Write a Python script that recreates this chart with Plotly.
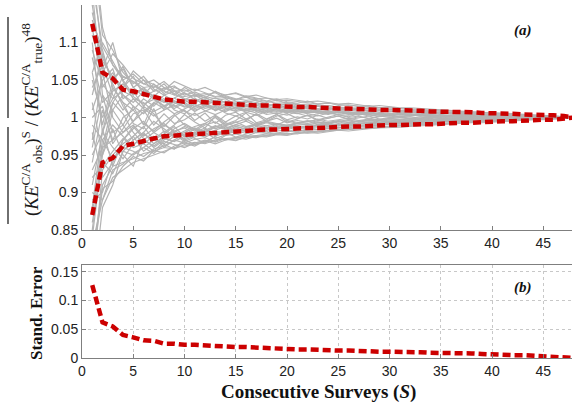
import plotly.graph_objects as go

# Consecutive surveys S = 1..48
surveys = list(range(1, 49))

# Standard error vs S (panel b)
stand_error = [0.127, 0.062, 0.055, 0.040, 0.036, 0.031, 0.030, 0.025, 0.025, 0.023,
               0.023, 0.022, 0.021, 0.019, 0.019, 0.019, 0.018, 0.017, 0.017, 0.016,
               0.015, 0.015, 0.014, 0.014, 0.013, 0.013, 0.012, 0.012, 0.011, 0.011,
               0.011, 0.010, 0.010, 0.009, 0.009, 0.009, 0.008, 0.008, 0.007, 0.006,
               0.006, 0.005, 0.005, 0.004, 0.004, 0.003, 0.002, 0.000]

# Upper / lower red bands in panel (a)
band_upper = [1.125, 1.060, 1.052, 1.037, 1.035, 1.031, 1.027, 1.024, 1.023, 1.021,
              1.021, 1.020, 1.019, 1.018, 1.018, 1.017, 1.016, 1.016, 1.015, 1.015,
              1.014, 1.014, 1.013, 1.013, 1.012, 1.012, 1.011, 1.011, 1.010, 1.010,
              1.010, 1.009, 1.009, 1.008, 1.008, 1.008, 1.007, 1.007, 1.006, 1.006,
              1.005, 1.005, 1.004, 1.004, 1.003, 1.003, 1.002, 1.000]
band_lower = [0.870, 0.940, 0.946, 0.962, 0.965, 0.969, 0.972, 0.975, 0.976, 0.977,
              0.978, 0.979, 0.980, 0.981, 0.981, 0.982, 0.983, 0.984, 0.984, 0.985,
              0.985, 0.986, 0.986, 0.987, 0.987, 0.988, 0.988, 0.989, 0.989, 0.990,
              0.990, 0.991, 0.991, 0.991, 0.992, 0.992, 0.993, 0.993, 0.994, 0.994,
              0.995, 0.995, 0.996, 0.996, 0.997, 0.997, 0.998, 1.000]

# Individual realizations: deviation from 1, in thousandths
realizations = [
    [180, 95, 70, 55, 48, 40, 42, 35, 30, 28, 30, 26, 22, 20, 21, 18, 16, 17, 15, 13, 14, 12, 11, 12, 10, 9, 10, 8, 7, 8, 7, 6, 6, 5, 5, 6, 5, 4, 4, 3, 3, 3, 2, 2, 1, 1, 1, 0],
    [-170, -110, -80, -70, -60, -55, -50, -44, -40, -38, -35, -33, -30, -28, -27, -25, -24, -22, -20, -19, -18, -17, -15, -14, -13, -12, -11, -10, -10, -9, -8, -8, -7, -6, -6, -5, -5, -4, -4, -3, -3, -2, -2, -2, -1, -1, 0, 0],
    [120, 40, 60, 30, 20, 35, 25, 15, 22, 18, 10, 14, 16, 12, 8, 11, 13, 9, 7, 10, 8, 6, 7, 9, 6, 5, 4, 6, 5, 3, 4, 5, 3, 2, 3, 2, 3, 2, 1, 2, 1, 1, 2, 1, 0, 1, 0, 0],
    [-90, -20, -40, -55, -35, -30, -38, -28, -32, -25, -20, -24, -18, -22, -16, -19, -14, -17, -12, -15, -11, -13, -10, -12, -9, -10, -8, -9, -7, -8, -6, -7, -5, -6, -5, -4, -5, -3, -4, -3, -2, -3, -2, -1, -2, -1, 0, 0],
    [60, 100, 75, 50, 58, 45, 40, 48, 36, 30, 34, 28, 25, 27, 22, 20, 23, 18, 16, 19, 15, 14, 16, 12, 13, 11, 10, 12, 9, 8, 9, 7, 8, 6, 7, 5, 6, 5, 4, 4, 3, 3, 3, 2, 2, 1, 1, 0],
    [-140, -60, -75, -45, -50, -40, -30, -35, -25, -28, -22, -26, -20, -18, -21, -16, -15, -17, -13, -14, -12, -11, -13, -10, -9, -10, -8, -7, -8, -6, -7, -5, -6, -4, -5, -4, -3, -4, -3, -2, -3, -2, -1, -2, -1, -1, 0, 0],
    [20, -50, 10, 30, 15, -10, 20, 25, 10, 5, 15, 20, 12, 8, 14, 10, 6, 9, 12, 7, 5, 8, 6, 4, 7, 5, 3, 6, 4, 2, 5, 3, 4, 2, 3, 1, 2, 3, 1, 2, 1, 0, 1, 1, 0, 0, 0, 0],
    [-40, 30, -20, -10, -30, -20, -5, -15, -25, -18, -12, -8, -15, -10, -6, -12, -9, -5, -8, -11, -7, -4, -6, -8, -5, -3, -6, -4, -2, -5, -3, -4, -2, -3, -1, -2, -3, -1, -2, -1, -1, -2, 0, -1, 0, 0, 0, 0],
    [200, 80, 50, 65, 40, 50, 35, 38, 42, 32, 28, 30, 33, 26, 24, 27, 22, 20, 23, 19, 17, 18, 15, 16, 14, 12, 13, 11, 10, 11, 9, 8, 9, 7, 6, 7, 5, 6, 4, 5, 3, 4, 2, 3, 2, 1, 1, 0],
    [-190, -90, -65, -60, -55, -48, -45, -40, -42, -36, -33, -35, -30, -29, -31, -26, -27, -24, -23, -21, -22, -19, -18, -17, -16, -15, -14, -13, -12, -11, -11, -10, -9, -8, -8, -7, -6, -6, -5, -5, -4, -3, -3, -2, -2, -1, -1, 0],
    [80, 20, 35, 45, 30, 40, 28, 20, 26, 33, 24, 18, 22, 25, 17, 15, 20, 14, 18, 13, 12, 15, 11, 10, 13, 9, 8, 10, 7, 9, 6, 7, 5, 6, 4, 5, 4, 3, 4, 2, 3, 2, 2, 1, 1, 1, 0, 0],
    [-60, 10, -30, -20, -10, -25, -15, -8, -20, -12, -18, -10, -6, -14, -9, -5, -11, -7, -10, -4, -8, -6, -3, -7, -5, -4, -6, -3, -4, -2, -3, -4, -2, -1, -3, -2, -1, -2, -1, -1, 0, -1, -1, 0, 0, 0, 0, 0],
    [150, 60, 85, 70, 52, 45, 50, 40, 35, 37, 30, 32, 27, 29, 25, 23, 24, 21, 19, 20, 18, 16, 17, 15, 14, 13, 12, 13, 11, 10, 9, 10, 8, 7, 8, 6, 7, 5, 5, 4, 4, 3, 3, 2, 2, 1, 1, 0],
    [-110, -100, -55, -40, -45, -52, -42, -38, -30, -34, -29, -27, -32, -24, -22, -25, -20, -21, -18, -17, -19, -15, -16, -14, -13, -14, -11, -12, -10, -9, -10, -8, -7, -8, -6, -6, -5, -5, -4, -4, -3, -3, -2, -2, -1, -1, 0, 0],
    [40, 70, 30, 10, 25, 20, 8, 15, 5, 12, 18, 9, 4, 10, 13, 7, 3, 8, 5, 9, 6, 2, 5, 7, 4, 3, 5, 2, 4, 3, 1, 3, 2, 2, 1, 2, 1, 0, 1, 1, 0, 1, 0, 0, 0, 0, 0, 0],
    [-20, -80, -60, -30, -15, -5, -20, -28, -15, -8, -16, -20, -13, -7, -12, -15, -10, -6, -9, -12, -8, -5, -9, -6, -4, -7, -5, -3, -6, -4, -3, -2, -4, -3, -2, -1, -2, -2, -1, -1, -1, 0, -1, 0, 0, 0, 0, 0],
    [100, -20, 20, 40, 55, 30, 45, 32, 40, 35, 38, 33, 28, 30, 32, 27, 25, 26, 22, 23, 21, 20, 18, 19, 17, 16, 15, 14, 13, 12, 12, 11, 10, 9, 9, 8, 7, 7, 6, 6, 5, 4, 4, 3, 2, 2, 1, 0],
    [-130, -30, -10, -25, -40, -35, -45, -32, -36, -40, -34, -30, -33, -28, -30, -27, -24, -25, -22, -23, -20, -21, -19, -18, -17, -16, -15, -14, -13, -13, -12, -11, -10, -9, -9, -8, -7, -6, -6, -5, -5, -4, -3, -3, -2, -2, -1, 0],
    [10, 50, 65, 25, 35, 15, 30, 10, 18, 24, 14, 20, 9, 15, 11, 17, 8, 12, 10, 6, 11, 7, 9, 5, 8, 4, 6, 7, 3, 5, 4, 2, 4, 3, 2, 3, 1, 2, 2, 1, 1, 1, 0, 1, 0, 0, 0, 0],
    [-70, -40, 20, 5, -20, -35, -25, -40, -30, -22, -28, -34, -25, -20, -26, -22, -18, -21, -16, -19, -15, -13, -16, -12, -14, -11, -10, -12, -9, -8, -9, -7, -8, -6, -5, -6, -4, -5, -3, -4, -3, -2, -2, -1, -1, -1, 0, 0],
    [230, 110, 90, 60, 45, 55, 38, 30, 35, 25, 22, 27, 20, 17, 19, 14, 16, 12, 15, 11, 10, 12, 9, 8, 10, 7, 6, 8, 5, 6, 4, 5, 3, 4, 3, 2, 3, 2, 1, 2, 1, 1, 1, 0, 1, 0, 0, 0],
    [-220, -70, -50, -35, -25, -45, -35, -25, -20, -30, -24, -16, -22, -19, -14, -18, -12, -15, -11, -13, -10, -9, -11, -8, -10, -7, -8, -6, -7, -5, -6, -4, -5, -3, -4, -3, -2, -3, -2, -1, -2, -1, -1, 0, -1, 0, 0, 0],
    [0, 15, -35, -15, 5, 10, -10, 5, -8, -3, 6, -5, 3, -6, 2, -4, 5, -2, 4, -3, 1, -2, 3, -1, 2, -2, 1, -1, 2, 0, 1, -1, 1, 0, -1, 1, 0, -1, 0, 1, 0, 0, 0, 0, 0, 0, 0, 0],
    [130, 90, 40, 20, 10, 25, 15, 30, 22, 15, 20, 24, 18, 22, 19, 16, 20, 17, 14, 16, 13, 15, 12, 14, 11, 10, 12, 9, 10, 8, 9, 7, 8, 6, 6, 5, 5, 4, 4, 3, 3, 2, 2, 2, 1, 1, 0, 0],
    [-160, -50, -15, -50, -65, -30, -20, -10, -18, -24, -15, -22, -17, -12, -18, -14, -16, -11, -14, -10, -12, -14, -10, -9, -11, -8, -9, -7, -8, -6, -7, -6, -5, -5, -4, -4, -3, -3, -3, -2, -2, -2, -1, -1, -1, 0, 0, 0],
    [60, -10, 50, 68, 40, 28, 35, 45, 30, 40, 32, 26, 35, 28, 24, 29, 26, 22, 25, 21, 19, 22, 18, 20, 16, 17, 15, 16, 13, 14, 12, 12, 11, 10, 10, 9, 8, 8, 7, 6, 5, 5, 4, 3, 3, 2, 1, 0],
    [-30, 60, 0, -20, -5, 15, 5, -12, 2, 10, -4, 6, -8, 3, 7, -2, 4, -5, 2, 5, -1, 3, -3, 1, 4, 0, 2, -2, 1, 2, 0, 1, -1, 1, 0, 1, 0, 0, 1, 0, 0, 0, 0, 0, 0, 0, 0, 0],
    [-100, -110, -70, -62, -48, -40, -48, -36, -42, -30, -36, -32, -26, -30, -28, -24, -26, -23, -21, -22, -20, -18, -19, -17, -16, -15, -15, -13, -12, -12, -11, -10, -9, -9, -8, -7, -7, -6, -5, -5, -4, -4, -3, -2, -2, -1, -1, 0],
    [170, 30, 10, -10, 15, 5, 18, 22, 12, 20, 26, 15, 10, 18, 13, 9, 14, 11, 8, 12, 9, 7, 10, 6, 8, 5, 7, 4, 6, 3, 5, 4, 2, 3, 3, 2, 2, 1, 2, 1, 1, 1, 0, 1, 0, 0, 0, 0],
    [-50, -20, 40, 20, -8, -15, 12, -20, -10, 4, -6, -14, 2, -9, -4, 6, -7, -3, 4, -6, -2, 3, -4, -1, 2, -3, -1, 2, -2, 0, 1, -2, 0, 1, -1, 0, 0, -1, 0, 0, 0, 0, 0, 0, 0, 0, 0, 0],
    [90, 45, 25, 35, 28, 18, 24, 16, 20, 14, 17, 12, 15, 10, 13, 9, 12, 8, 10, 7, 9, 6, 8, 5, 7, 6, 5, 4, 5, 3, 4, 3, 3, 2, 3, 2, 2, 1, 2, 1, 1, 1, 0, 0, 0, 0, 0, 0],
    [-80, -65, -45, -28, -38, -22, -30, -18, -26, -20, -14, -19, -12, -16, -10, -13, -9, -11, -8, -10, -7, -8, -6, -7, -5, -6, -4, -5, -4, -3, -4, -3, -2, -3, -2, -2, -1, -2, -1, -1, -1, 0, -1, 0, 0, 0, 0, 0],
    [140, 75, 55, 40, 62, 50, 44, 36, 48, 42, 36, 40, 34, 30, 33, 28, 30, 26, 24, 25, 23, 21, 22, 20, 18, 19, 17, 15, 16, 14, 13, 13, 12, 11, 10, 9, 9, 8, 7, 6, 6, 5, 4, 3, 3, 2, 1, 0],
    [-200, -95, -85, -65, -52, -58, -44, -47, -38, -34, -38, -31, -35, -30, -27, -29, -25, -26, -23, -24, -21, -20, -21, -19, -17, -18, -16, -15, -14, -14, -13, -12, -11, -10, -10, -9, -8, -7, -7, -6, -5, -5, -4, -3, -3, -2, -1, 0],
    [30, 85, 45, 15, -5, 8, 20, 12, 26, 18, 8, 16, 22, 13, 9, 15, 11, 6, 13, 9, 7, 10, 8, 5, 9, 6, 4, 7, 5, 3, 6, 4, 3, 4, 2, 3, 2, 1, 2, 1, 1, 1, 1, 0, 0, 0, 0, 0],
    [-10, -30, -55, -40, -25, -12, -30, -22, -12, -26, -20, -14, -24, -18, -12, -16, -20, -13, -15, -11, -14, -12, -9, -11, -8, -10, -7, -8, -6, -7, -5, -6, -5, -4, -4, -3, -3, -3, -2, -2, -2, -1, -1, -1, 0, 0, 0, 0],
    [250, 120, 70, 50, 30, 38, 28, 22, 15, 20, 12, 17, 10, 14, 16, 12, 9, 13, 10, 8, 11, 9, 7, 9, 6, 8, 5, 6, 4, 5, 3, 4, 3, 2, 3, 2, 1, 2, 1, 1, 1, 0, 0, 0, 0, 0, 0, 0],
    [-240, -120, -90, -45, -30, -20, -35, -26, -18, -14, -22, -17, -11, -15, -19, -13, -10, -14, -9, -12, -8, -10, -7, -9, -6, -8, -5, -7, -4, -6, -5, -4, -3, -4, -2, -3, -2, -2, -1, -1, -1, -1, 0, 0, 0, 0, 0, 0],
    [50, 0, 25, 55, 48, 36, 28, 40, 32, 24, 30, 22, 26, 20, 17, 22, 18, 15, 19, 16, 14, 13, 15, 12, 11, 12, 10, 9, 10, 8, 8, 7, 6, 7, 5, 5, 4, 4, 3, 3, 3, 2, 2, 1, 1, 1, 0, 0],
    [-120, -15, -65, -30, -12, -28, -40, -30, -22, -32, -26, -20, -28, -23, -18, -21, -17, -19, -14, -16, -13, -15, -12, -13, -11, -12, -10, -9, -10, -8, -8, -7, -6, -6, -5, -5, -4, -4, -3, -3, -3, -2, -2, -1, -1, -1, 0, 0],
    [110, 65, 100, 48, 25, 12, 2, 10, 16, 8, 3, 9, 14, 6, 2, 7, 10, 4, 6, 3, 8, 5, 2, 6, 4, 1, 5, 3, 2, 4, 1, 2, 3, 1, 2, 1, 0, 1, 1, 0, 1, 0, 0, 0, 0, 0, 0, 0],
    [-150, -40, -30, 0, 10, -8, -18, -6, 4, -10, -16, -8, 0, -11, -7, -2, -9, -5, -1, -7, -4, -6, -2, -5, -3, -1, -4, -2, -3, -1, -2, -1, -2, 0, -1, -1, 0, -1, 0, 0, 0, 0, 0, 0, 0, 0, 0, 0],
]

x_ticks = [0, 5, 10, 15, 20, 25, 30, 35, 40, 45]
y_ticks_a = [0.85, 0.9, 0.95, 1.0, 1.05, 1.1]
y_ticks_a_text = ["0.85", "0.9", "0.95", "1", "1.05", "1.1"]
y_ticks_b = [0, 0.05, 0.1, 0.15]
y_ticks_b_text = ["0", "0.05", "0.1", "0.15"]

GRAY = "#b3b3b3"
RED = "#cc0000"
AXIS = "#7f7f7f"
TICKFONT = dict(family="Liberation Sans, Arial", size=14, color="#222")
SERIF = "Liberation Serif, Times New Roman, serif"

W, H = 572, 403
ML, MR, MT, MB = 82, 0, 5, 45
PW, PH = W - ML - MR, H - MT - MB


def px(xp):
    return (xp - ML) / PW


def py(yp):
    return (H - yp - MB) / PH


fig = go.Figure()

for dev in realizations:
    fig.add_trace(go.Scatter(x=surveys, y=[1 + d / 1000 for d in dev], mode="lines",
                             line=dict(color=GRAY, width=1.2), hoverinfo="skip",
                             showlegend=False, xaxis="x", yaxis="y"))

for band in (band_upper, band_lower):
    fig.add_trace(go.Scatter(x=surveys, y=band, mode="lines",
                             line=dict(color=RED, width=4.5, dash="8px,4px"),
                             showlegend=False, xaxis="x", yaxis="y"))

fig.add_trace(go.Scatter(x=surveys, y=stand_error, mode="lines",
                         line=dict(color=RED, width=4.5, dash="8px,4px"),
                         showlegend=False, xaxis="x2", yaxis="y2"))

common_x = dict(range=[0, 47.8], tickvals=x_ticks, ticks="inside", ticklen=4,
                tickcolor=AXIS, showline=True, linecolor=AXIS, linewidth=1,
                tickfont=TICKFONT, zeroline=False)


def ann(text, xp, yp, size, angle=0, color="#111"):
    return dict(text=text, x=px(xp), y=py(yp), xref="paper", yref="paper",
                xanchor="center", yanchor="middle", showarrow=False, textangle=angle,
                font=dict(family=SERIF, size=size, color=color))


def overline(xp, y0p, y1p):
    return dict(type="line", xref="paper", yref="paper",
                x0=px(xp), x1=px(xp), y0=py(y0p), y1=py(y1p),
                line=dict(color="#222", width=1.3))


fig.update_layout(
    width=W, height=H,
    margin=dict(l=ML, r=MR, t=MT, b=MB),
    paper_bgcolor="white", plot_bgcolor="white",
    xaxis=dict(domain=[0, 1], anchor="y", showgrid=False, **common_x),
    yaxis=dict(domain=[py(230), 1], anchor="x", range=[0.85, 1.15],
               tickvals=y_ticks_a, ticktext=y_ticks_a_text, ticks="inside", ticklen=4,
               tickcolor=AXIS, showline=True, linecolor=AXIS, linewidth=1,
               tickfont=TICKFONT, showgrid=False, zeroline=False),
    xaxis2=dict(domain=[0, 1], anchor="y2", showgrid=True, griddash="dot",
                gridcolor="#c8c8c8", gridwidth=1, mirror=True, **common_x),
    yaxis2=dict(domain=[0, py(265)], anchor="x2", range=[0, 0.162],
                tickvals=y_ticks_b, ticktext=y_ticks_b_text, ticks="inside", ticklen=4,
                tickcolor=AXIS, showline=True, linecolor=AXIS, linewidth=1, mirror=True,
                tickfont=TICKFONT, showgrid=True, griddash="dot", gridcolor="#c8c8c8",
                zeroline=False),
    annotations=[
        ann("<b><i>(a)</i></b>", 523, 30, 15),
        ann("<b><i>(b)</i></b>", 523, 287, 15),
        ann("<b>Consecutive Surveys (<i>S</i>)</b>", 318, 392, 19),
        ann("<b>Stand. Error</b>", 36, 313, 17, angle=-90),
        ann("(<i>KE</i><sup>C/A</sup><sub>obs</sub>)<sup>S</sup> / (<i>KE</i><sup>C/A</sup><sub>true</sub>)<sup>48</sup>",
            32, 120, 19, angle=-90, color="#1a1a1a"),
    ],
    shapes=[overline(8, 224, 127), overline(8, 118, 17)],
)

fig.write_html("out.html")
